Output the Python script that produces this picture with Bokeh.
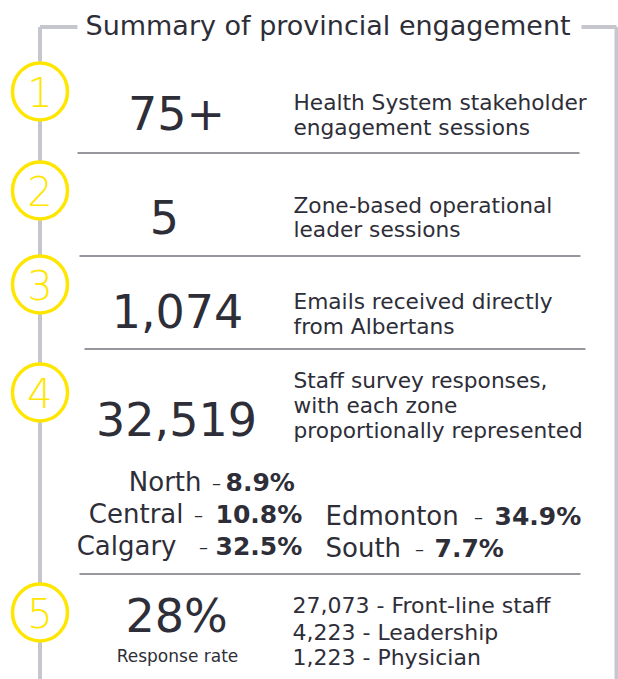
from bokeh.plotting import figure
from bokeh.models import Range1d
from bokeh.core.properties import value
from bokeh.embed import file_html
from bokeh.resources import INLINE

# ---------------- data ----------------
title = "Summary of provincial engagement"
step_labels = ["1", "2", "3", "4", "5"]
big_numbers = ["75+", "5", "1,074", "32,519", "28%"]
descriptions = [
    ["Health System stakeholder", "engagement sessions"],
    ["Zone-based operational", "leader sessions"],
    ["Emails received directly", "from Albertans"],
    ["Staff survey responses,", "with each zone", "proportionally represented"],
]
zone_left = ["North", "Central", "Calgary"]
zone_left_pct = ["8.9%", "10.8%", "32.5%"]
zone_right = ["Edmonton", "South"]
zone_right_pct = ["34.9%", "7.7%"]
staff_counts = ["27,073", "4,223", "1,223"]
staff_roles = ["Front-line staff", "Leadership", "Physician"]
rate_label = "Response rate"

# ---------------- layout (pixel positions) ----------------
W, H = 618, 679
FONT = "DejaVu Sans"
LIGHT_FONT = "'DejaVu Sans ExtraLight', 'DejaVu Sans Light', 'DejaVu Sans'"
DARK = "#2e2e38"
YELLOW = "#ffe600"
FRAME = "#c6c6ce"
SEP = "#747480"
MID = 0.35  # baseline -> middle offset (in em)

def mid(base, size):
    return [b - MID * size for b in base]

circle_x = 39.5
circle_y = [91, 190, 284, 392, 612]
big_x = [176, 164, 177, 176, 176]
big_base = [129, 233, 327, 435, 632]
desc_x = 293
desc_base = [[110, 135], [213, 237], [309, 334], [388, 413, 438]]
sep_y = [152.5, 255.5, 348.5, 573.5]
sep_x0 = [77, 79, 84, 79]
sep_x1 = [579, 580, 585, 580]

zl_name_right = [201, 183, 176]
zl_dash = [216, 198, 203]
zl_val_left = [225, 215, 215]
zl_base = [491, 523, 555]
zr_name_left = 325
zr_dash = [478, 419]
zr_val_left = [494, 434]
zr_base = [525, 557]
staff_base = [613, 640, 665]

p = figure(width=W, height=H, x_range=Range1d(0, W), y_range=Range1d(H, 0),
           output_backend="svg", toolbar_location=None, min_border=0,
           background_fill_color="white", border_fill_color="white")
p.axis.visible = False
p.grid.visible = False
p.outline_line_color = None

# frame
p.segment(x0=[circle_x, circle_x, 581, 616], y0=[26.5, 26.5, 26.5, 26.5],
          x1=[circle_x, 77, 616, 616], y1=[H, 26.5, 26.5, H],
          line_color=FRAME, line_width=4)

# title
p.text(x=[85], y=mid([34], 27), text=[title], text_font=value(FONT), text_font_size="27px",
       text_color=DARK, text_align="left", text_baseline="middle")

# step circles
p.ellipse(x=[circle_x] * 5, y=circle_y, width=55, height=57, fill_color="white",
          line_color=YELLOW, line_width=3.5)
p.text(x=[circle_x] * 5, y=circle_y, text=step_labels,
       text_font=value(LIGHT_FONT), text_font_size="40px", text_color=YELLOW,
       text_align="center", text_baseline="middle")

# separators
p.segment(x0=sep_x0, y0=sep_y, x1=sep_x1, y1=sep_y, line_color=SEP, line_width=1.5)

# big numbers
p.text(x=big_x, y=mid(big_base, 46), text=big_numbers, text_font=value(FONT),
       text_font_size="46px", text_color=DARK, text_align="center",
       text_baseline="middle")
p.text(x=[177], y=mid([661], 17), text=[rate_label], text_font=value(FONT),
       text_font_size="17px", text_color=DARK, text_align="center",
       text_baseline="middle")

# descriptions
dx, dy, dt = [], [], []
for lines, bases in zip(descriptions, desc_base):
    for t, b in zip(lines, bases):
        dx.append(desc_x); dy.append(b); dt.append(t)
p.text(x=dx, y=mid(dy, 21.7), text=dt, text_font=value(FONT), text_font_size="21.7px",
       text_color=DARK, text_align="left", text_baseline="middle")

# zones left column
p.text(x=zl_name_right, y=mid(zl_base, 26), text=zone_left, text_font=value(FONT),
       text_font_size="26px", text_color=DARK, text_align="right", text_baseline="middle")
p.text(x=zl_dash, y=mid(zl_base, 26), text=["–"] * 3, text_font=value(FONT),
       text_font_size="18px", text_color=DARK, text_align="center", text_baseline="middle")
p.text(x=zl_val_left, y=mid(zl_base, 26), text=zone_left_pct, text_font=value(FONT),
       text_font_size="25px", text_font_style="bold", text_color=DARK,
       text_align="left", text_baseline="middle")
# zones right column
p.text(x=[zr_name_left] * 2, y=mid(zr_base, 26), text=zone_right, text_font=value(FONT),
       text_font_size="26px", text_color=DARK, text_align="left", text_baseline="middle")
p.text(x=zr_dash, y=mid(zr_base, 26), text=["–"] * 2, text_font=value(FONT),
       text_font_size="18px", text_color=DARK, text_align="center", text_baseline="middle")
p.text(x=zr_val_left, y=mid(zr_base, 26), text=zone_right_pct, text_font=value(FONT),
       text_font_size="25px", text_font_style="bold", text_color=DARK,
       text_align="left", text_baseline="middle")

# staff breakdown
p.text(x=[292] * 3, y=mid(staff_base, 22),
       text=[f"{c} - {r}" for c, r in zip(staff_counts, staff_roles)],
       text_font=value(FONT), text_font_size="22px", text_color=DARK,
       text_align="left", text_baseline="middle")

open("out.html", "w").write(file_html(p, INLINE))
